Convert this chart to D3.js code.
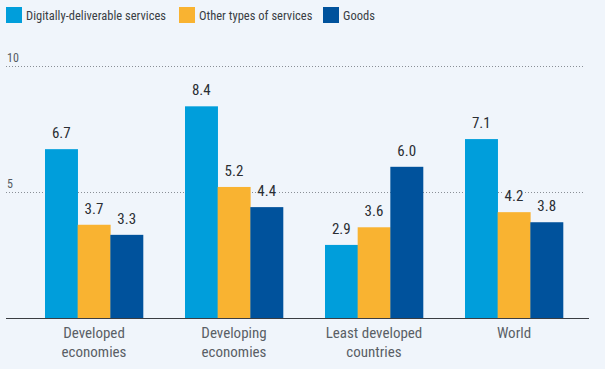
<!DOCTYPE html>
<html><head><meta charset="utf-8">
<script src="https://cdn.jsdelivr.net/npm/d3@7"></script>
<style>
html,body{margin:0;padding:0;background:#f0f5fb;}
svg{display:block;font-family:"Liberation Sans Narrow","Roboto Condensed","Liberation Sans",Arial,sans-serif;}
</style></head>
<body><svg id="c" width="605" height="369"></svg>
<script>
const categories = [["Developed","economies"],["Developing","economies"],["Least developed","countries"],["World"]];
const seriesNames = ["Digitally-deliverable services","Other types of services","Goods"];
const digital = [6.7, 8.4, 2.9, 7.1];
const other = [3.7, 5.2, 3.6, 4.2];
const goods = [3.3, 4.4, 6.0, 3.8];
const yTicks = [5, 10];
const colors = ["#009edb","#f9b331","#00529c"];

const svg = d3.select("#c");
svg.append("rect").attr("width",605).attr("height",369).attr("fill","#f0f5fb");
const series = [digital, other, goods];
const catKeys = categories.map((c,i)=>i);
const x0 = d3.scaleBand().domain(catKeys).range([24,584]).paddingInner(0.3).paddingOuter(0.15);
const x1 = d3.scaleBand().domain([0,1,2]).range([0,x0.bandwidth()]);
const y = d3.scaleLinear().domain([0,10]).range([318,66]);

// gridlines
const grid = svg.append("g");
yTicks.forEach(t=>{
  grid.append("line").attr("x1",6).attr("x2",584).attr("y1",y(t)+0.5).attr("y2",y(t)+0.5)
    .attr("stroke","#8a8f96").attr("stroke-width",1).attr("stroke-dasharray","1,2");
  grid.append("text").attr("x",7).attr("y",y(t)-4).text(t)
    .attr("font-size",12).attr("fill","#555b62");
});

// bars
const g = svg.append("g");
catKeys.forEach(ci=>{
  series.forEach((s,si)=>{
    g.append("rect").attr("x",x0(ci)+x1(si)).attr("width",x1.bandwidth()+0.3)
      .attr("y",y(s[ci])).attr("height",y(0)-y(s[ci])).attr("fill",colors[si]);
  });
});
// value labels
catKeys.forEach(ci=>{
  series.forEach((s,si)=>{
    const cx = x0(ci)+x1(si)+x1.bandwidth()/2;
    const tx = g.append("text").attr("x",cx).attr("y",y(s[ci])-11).attr("text-anchor","middle")
      .attr("font-size",15).attr("fill","#2a2e33").text(s[ci].toFixed(1));
    const bb = tx.node().getBBox();
    g.insert("rect", () => tx.node()).attr("x",bb.x-1).attr("y",bb.y+2).attr("width",bb.width+2).attr("height",bb.height-3).attr("fill","#f0f5fb");
  });
});

// axis line
svg.append("line").attr("x1",6).attr("x2",589).attr("y1",318.5).attr("y2",318.5).attr("stroke","#3a3d42").attr("stroke-width",1);

// category labels
catKeys.forEach(ci=>{
  const t = svg.append("text").attr("x",x0(ci)+x0.bandwidth()/2).attr("y",338).attr("text-anchor","middle")
    .attr("font-size",15).attr("fill","#5a5f66");
  categories[ci].forEach((line,li)=>{
    t.append("tspan").attr("x",x0(ci)+x0.bandwidth()/2).attr("dy",li?19:0).text(line);
  });
});

// legend
const legX = [6,179,323];
seriesNames.forEach((n,i)=>{
  svg.append("rect").attr("x",legX[i]).attr("y",7).attr("width",16).attr("height",16).attr("fill",colors[i]);
  svg.append("text").attr("x",legX[i]+20).attr("y",20).attr("font-size",12.5).attr("fill","#3a3e44").text(n);
});
</script></body></html>
